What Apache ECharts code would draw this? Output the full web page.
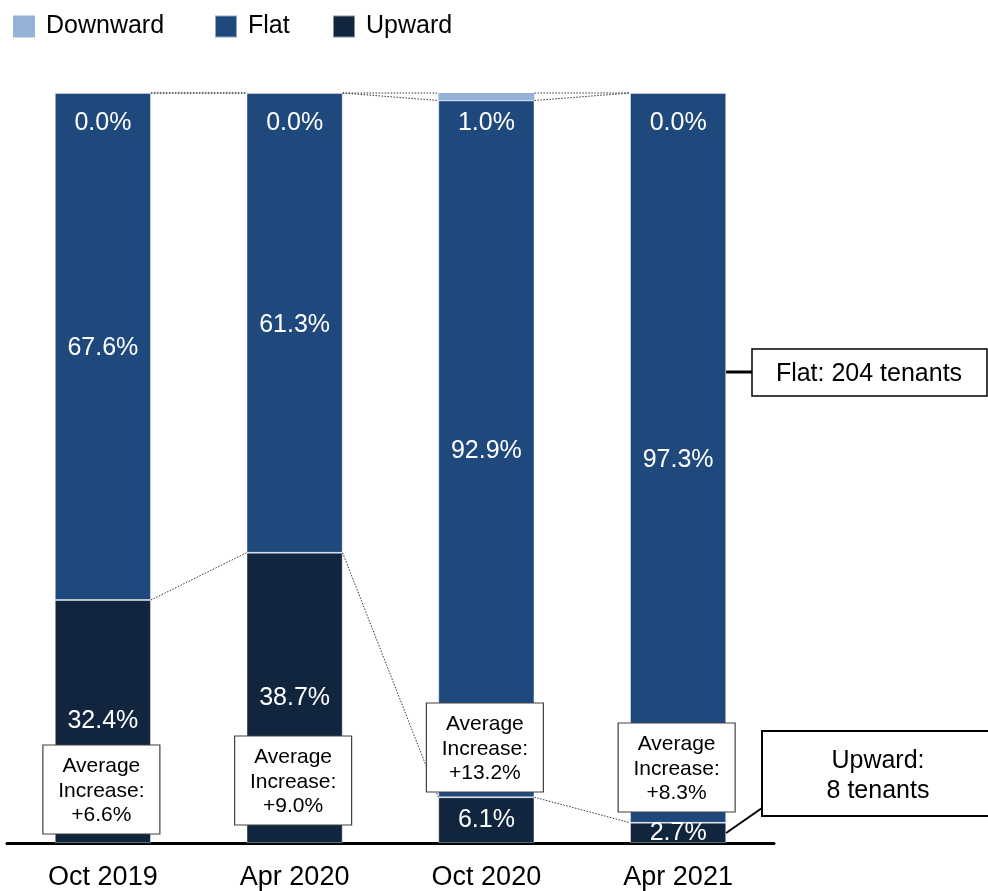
<!DOCTYPE html>
<html>
<head>
<meta charset="utf-8">
<script src="https://cdn.jsdelivr.net/npm/echarts@6/dist/echarts.min.js"></script>
<style>
  html, body { margin: 0; padding: 0; background: #fff; }
  #chart { width: 988px; height: 891px; }
</style>
</head>
<body>
<div id="chart"></div>
<script>
// ---- Data ----
const categories = ['Oct 2019', 'Apr 2020', 'Oct 2020', 'Apr 2021'];
const upward   = [32.4, 38.7, 6.1, 2.7];
const flat     = [67.6, 61.3, 92.9, 97.3];
const downward = [0.0, 0.0, 1.0, 0.0];
const avgIncrease = ['+6.6%', '+9.0%', '+13.2%', '+8.3%'];
const flatNote = 'Flat: 204 tenants';
const upwardNote = ['Upward:', '8 tenants'];

// ---- Styles ----
const FONT = "'Liberation Sans', Arial, sans-serif";
const C_DOWN = '#95b3d7', C_FLAT = '#1f497d', C_UP = '#11253f';
const BAR_W = 96;

// connector levels built from the data: [leftIndex, leftValue, rightValue]
const connectors = [];
for (let i = 0; i < categories.length - 1; i++) {
  connectors.push([i, upward[i], upward[i + 1]]);
  connectors.push([i, upward[i] + flat[i], upward[i + 1] + flat[i + 1]]);
  connectors.push([i, upward[i] + flat[i] + downward[i], upward[i + 1] + flat[i + 1] + downward[i + 1]]);
}

const chart = echarts.init(document.getElementById('chart'), null, { renderer: 'canvas' });

const fmt = p => Number(p.value).toFixed(1) + '%';
const barLabel = {
  show: true, color: '#fff', fontSize: 25, fontFamily: FONT, formatter: fmt
};
const legendBase = {
  top: 14, itemWidth: 22, itemHeight: 22, padding: 0, icon: 'rect',
  textStyle: { fontSize: 25, fontFamily: FONT, color: '#000', padding: [3, 0, 0, 6] }
};

chart.setOption({
  animation: false,
  legend: [
    Object.assign({}, legendBase, { left: 13, data: ['Downward'] }),
    Object.assign({}, legendBase, { left: 214, data: ['Flat'] }),
    Object.assign({}, legendBase, { left: 332, data: ['Upward'] })
  ],
  grid: { left: 7, right: 214, top: 93, bottom: 47, containLabel: false },
  xAxis: {
    type: 'category', data: categories,
    axisLine: { lineStyle: { color: '#000', width: 3 } },
    axisTick: { show: false },
    axisLabel: { fontSize: 27, color: '#000', fontFamily: FONT, margin: 21 }
  },
  yAxis: { type: 'value', min: 0, max: 100, show: false, splitLine: { show: false } },
  series: [
    {
      name: 'Upward', type: 'bar', stack: 'total', barWidth: BAR_W, data: upward,
      itemStyle: { color: C_UP, borderColor: 'rgba(255,255,255,0.5)', borderWidth: 0.8 },
      label: Object.assign({}, barLabel, { position: 'inside' })
    },
    {
      name: 'Flat', type: 'bar', stack: 'total', barWidth: BAR_W, data: flat,
      itemStyle: { color: C_FLAT, borderColor: 'rgba(255,255,255,0.5)', borderWidth: 0.8 },
      label: Object.assign({}, barLabel, { position: 'inside', offset: [0, 2] })
    },
    {
      name: 'Downward', type: 'bar', stack: 'total', barWidth: BAR_W, data: downward,
      itemStyle: { color: C_DOWN },
      label: Object.assign({}, barLabel, { position: [BAR_W / 2, 30], align: 'center', verticalAlign: 'middle' })
    },
    {
      name: 'connectors', type: 'custom', silent: true, z: 5,
      data: connectors,
      encode: { x: 0, y: [1, 2] },
      renderItem: function (params, api) {
        const i = api.value(0);
        const p1 = api.coord([i, api.value(1)]);
        const p2 = api.coord([i + 1, api.value(2)]);
        return {
          type: 'line',
          shape: { x1: p1[0] + BAR_W / 2, y1: p1[1], x2: p2[0] - BAR_W / 2, y2: p2[1] },
          style: { stroke: '#333', lineWidth: 1, lineDash: [1.5, 1.5] }
        };
      }
    }
  ]
});

// ---- Annotations (anchored to bar centres) ----
const boxTops = [745, 736, 703, 723];
const graphics = [];
const cx = categories.map((c, i) => chart.convertToPixel({ xAxisIndex: 0 }, i));
avgIncrease.forEach((v, i) => {
  const left = cx[i] - 60, top = boxTops[i];
  graphics.push({
    type: 'rect', z: 100,
    shape: { x: left, y: top, width: 117, height: 89 },
    style: { fill: '#fff', stroke: '#404040', lineWidth: 1.2 }
  });
  graphics.push({
    type: 'text', z: 101,
    style: {
      x: left + 58.5, y: top + 46, text: 'Average\nIncrease:\n' + v,
      align: 'center', verticalAlign: 'middle', font: '21px ' + FONT, fill: '#000', lineHeight: 24.5
    }
  });
});
const lastX = cx[cx.length - 1] + BAR_W / 2;
// Flat callout
graphics.push({ type: 'line', z: 100, shape: { x1: lastX, y1: 372, x2: 752, y2: 372 }, style: { stroke: '#000', lineWidth: 3 } });
graphics.push({ type: 'rect', z: 100, shape: { x: 752, y: 349, width: 235, height: 47 }, style: { fill: '#fff', stroke: '#000', lineWidth: 1.5 } });
graphics.push({ type: 'text', z: 101, style: { x: 869, y: 374, text: flatNote, align: 'center', verticalAlign: 'middle', font: '25px ' + FONT, fill: '#000' } });
// Upward callout
graphics.push({ type: 'line', z: 100, shape: { x1: lastX, y1: 833, x2: 762, y2: 808 }, style: { stroke: '#000', lineWidth: 2 } });
graphics.push({ type: 'rect', z: 100, shape: { x: 762, y: 731, width: 240, height: 85 }, style: { fill: '#fff', stroke: '#000', lineWidth: 2 } });
graphics.push({ type: 'text', z: 101, style: { x: 878, y: 776, text: upwardNote.join('\n'), align: 'center', verticalAlign: 'middle', font: '25px ' + FONT, fill: '#000', lineHeight: 30 } });

chart.setOption({ graphic: graphics });
</script>
</body>
</html>
